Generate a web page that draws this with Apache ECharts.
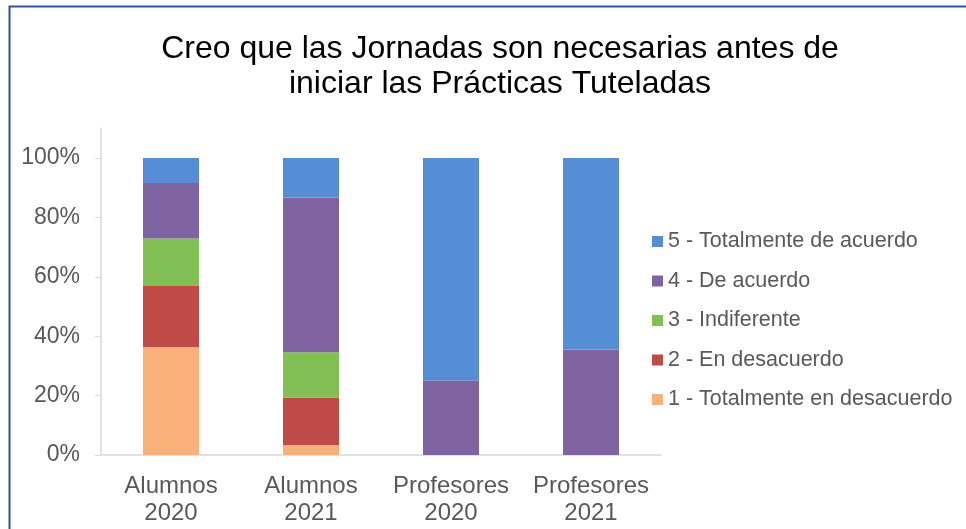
<!DOCTYPE html>
<html>
<head>
<meta charset="utf-8">
<script src="https://cdn.jsdelivr.net/npm/echarts@6/dist/echarts.min.js"></script>
<style>
html,body{margin:0;padding:0;background:#fff;}
#chart{width:966px;height:529px;}
</style>
</head>
<body>
<div id="chart"></div>
<script>
const TITLE = 'Creo que las Jornadas son necesarias antes de\niniciar las Prácticas Tuteladas';
const CATEGORIES = ['Alumnos\n2020', 'Alumnos\n2021', 'Profesores\n2020', 'Profesores\n2021'];
const SERIES_NAMES = ['1 - Totalmente en desacuerdo', '2 - En desacuerdo', '3 - Indiferente', '4 - De acuerdo', '5 - Totalmente de acuerdo'];
const SERIES_COLORS = ['#F9B17A', '#BE4B48', '#82C055', '#8064A2', '#558ED5'];
const S1 = [36.3, 3.3, 0, 0];
const S2 = [20.6, 16.0, 0, 0];
const S3 = [16.0, 15.3, 0, 0];
const S4 = [18.7, 52.1, 25.0, 35.5];
const S5 = [8.4, 13.3, 75.0, 64.5];
const Y_TICKS = [0, 20, 40, 60, 80, 100];

const VALUES = [S1, S2, S3, S4, S5];
const chart = echarts.init(document.getElementById('chart'), null, {renderer: 'canvas'});
const series = VALUES.map((vals, i) => ({
  name: SERIES_NAMES[i],
  type: 'bar',
  stack: 'total',
  barWidth: '40%',
  data: vals,
  itemStyle: {color: SERIES_COLORS[i]},
  emphasis: {disabled: true}
}));
chart.setOption({
  animation: false,
  title: {
    text: TITLE,
    left: 495,
    top: 27,
    textAlign: 'center',
    textStyle: {fontFamily: 'Liberation Sans, Arial', fontSize: 32, fontWeight: 'normal', color: '#000', lineHeight: 35}
  },
  graphic: [{
    type: 'rect',
    shape: {x: 9.5, y: 6.5, width: 1000, height: 600},
    style: {fill: 'none', stroke: '#2F5597', lineWidth: 2},
    silent: true
  }],
  legend: {
    orient: 'vertical',
    left: 652,
    top: 230.5,
    padding: 0,
    data: SERIES_NAMES.slice().reverse(),
    icon: 'rect',
    itemWidth: 11,
    itemHeight: 11,
    itemGap: 17.5,
    textStyle: {fontFamily: 'Liberation Sans, Arial', fontSize: 21.5, color: '#595959', lineHeight: 21}
  },
  grid: {left: 101, right: 305, top: 128.3, bottom: 74, containLabel: false},
  xAxis: {
    type: 'category',
    data: CATEGORIES,
    axisLine: {lineStyle: {color: '#D9D9D9', width: 1.5}},
    axisTick: {show: false},
    axisLabel: {interval: 0, fontFamily: 'Liberation Sans, Arial', fontSize: 24, color: '#595959', lineHeight: 27, margin: 18}
  },
  yAxis: {
    type: 'value',
    min: 0,
    max: 110,
    interval: 20,
    axisLine: {show: true, lineStyle: {color: '#D9D9D9', width: 1.5}},
    axisTick: {show: true, length: 6, lineStyle: {color: '#D9D9D9'}, customValues: Y_TICKS},
    splitLine: {show: false},
    axisLabel: {
      fontFamily: 'Liberation Sans, Arial', fontSize: 23, color: '#595959', margin: 21,
      customValues: Y_TICKS,
      formatter: v => v + '%'
    }
  },
  series: series
});
</script>
</body>
</html>
